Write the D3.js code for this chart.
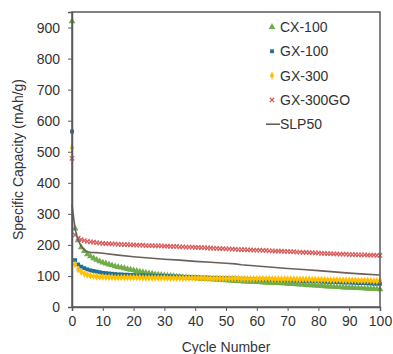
<!DOCTYPE html>
<html lang="en">
    <head>
        <style>
            body { margin: 0; background: #fff; }
            text { font-family: "Liberation Sans", Arial, sans-serif; fill: #333; }
        </style>
        <script src="https://d3js.org/d3.v7.min.js"></script>
        <title>Specific capacity</title>
    </head>
    <body>
        <div id="chart"></div>
        <script>

            // capacity (mAh/g) at cycles 0..100
            var cx100 = [920, 253, 215, 192, 180, 170, 163, 157, 152, 147, 143,
                140, 137, 134, 131, 129, 127, 125, 122, 120, 118,
                116, 114, 112, 110, 108, 107, 105, 104, 103, 102,
                101, 100, 99, 98, 97, 96, 95, 94, 94, 93,
                92, 91, 91, 90, 89, 89, 88, 87, 87, 86,
                85, 85, 84, 84, 83, 82, 82, 81, 81, 80,
                80, 79, 79, 78, 78, 77, 77, 76, 76, 75,
                74, 74, 73, 72, 72, 71, 70, 70, 69, 68,
                68, 67, 66, 66, 65, 64, 64, 63, 63, 62,
                62, 61, 61, 60, 60, 59, 59, 58, 58, 57];

            var gx100 = [565, 151, 137, 130, 125, 121, 118, 116, 114, 112, 110,
                109, 108, 107, 106, 105, 105, 104, 104, 103, 103,
                102, 102, 102, 101, 101, 101, 100, 100, 100, 99,
                99, 99, 98, 98, 98, 97, 97, 97, 96, 96,
                96, 95, 95, 95, 94, 94, 94, 93, 93, 93,
                92, 92, 92, 91, 91, 91, 90, 90, 90, 89,
                89, 89, 88, 88, 88, 87, 87, 87, 86, 86,
                86, 85, 85, 85, 84, 84, 84, 83, 83, 83,
                82, 82, 81, 81, 81, 80, 80, 79, 79, 79,
                78, 78, 77, 77, 77, 76, 76, 75, 75, 75];

            var gx300 = [513, 137, 121, 113, 107, 103, 101, 99, 98, 97, 97,
                96, 96, 96, 95, 95, 95, 95, 95, 95, 95,
                95, 95, 94, 94, 94, 94, 94, 94, 94, 94,
                93, 93, 93, 93, 93, 93, 93, 93, 93, 93,
                93, 93, 93, 92, 92, 92, 92, 92, 92, 92,
                92, 92, 92, 92, 91, 91, 91, 91, 91, 91,
                91, 91, 91, 91, 90, 90, 90, 90, 90, 90,
                90, 90, 89, 89, 89, 89, 89, 88, 88, 88,
                88, 88, 87, 87, 87, 87, 87, 86, 86, 86,
                86, 86, 85, 85, 85, 85, 85, 84, 84, 84];

            var gx300go = [479, 232, 222, 217, 214, 211, 210, 209, 207, 206, 205,
                204, 204, 203, 203, 202, 202, 201, 201, 200, 200,
                199, 199, 199, 198, 198, 198, 197, 197, 197, 196,
                196, 195, 195, 195, 194, 194, 193, 193, 193, 192,
                192, 191, 191, 190, 190, 189, 189, 188, 188, 187,
                187, 186, 186, 185, 185, 185, 184, 184, 183, 183,
                183, 182, 182, 181, 181, 180, 180, 180, 179, 179,
                178, 178, 177, 177, 176, 176, 175, 175, 174, 174,
                173, 173, 172, 172, 171, 171, 170, 170, 170, 169,
                169, 169, 168, 168, 168, 167, 167, 167, 166, 166];

            var slpCycles = [0, 1, 2, 3, 4, 5, 6, 8, 10, 15, 20, 25, 30, 35, 40, 45, 50, 53, 55,
                60, 65, 70, 75, 80, 85, 90, 95, 100];
            var slp50 = [330, 250, 215, 195, 184, 178, 176, 175, 173, 167, 162, 158, 154, 151, 147,
                144, 141, 139, 136, 132, 128, 124, 121, 117, 113, 109, 106, 103];

            var xTicks = [0, 10, 20, 30, 40, 50, 60, 70, 80, 90, 100];
            var yTicks = [0, 100, 200, 300, 400, 500, 600, 700, 800, 900];

            var margin = {top: 12, right: 13, bottom: 47, left: 72},
                width = 393 - margin.left - margin.right,
                height = 354 - margin.top - margin.bottom;

            var svg = d3.select("#chart")
                .append("svg")
                    .attr("width", 393)
                    .attr("height", 354)
                .append("g")
                    .attr("transform", "translate(" + margin.left + "," + margin.top + ")");

            var x = d3.scaleLinear().domain([0, 100]).range([0, width]);
            var y = d3.scaleLinear().domain([0, 950]).range([height, 0]);

            var series = [
                {name: "CX-100", values: cx100, color: "#70ad47", shape: d3.symbolTriangle, size: 20, fill: true},
                {name: "GX-100", values: gx100, color: "#1f6e9a", shape: d3.symbolSquare, size: 15, fill: true},
                {name: "GX-300", values: gx300, color: "#ffc000", shape: d3.symbolDiamond, size: 17, fill: true},
                {name: "GX-300GO", values: gx300go, color: "#d95f5f", shape: d3.symbolX, size: 14, fill: false}
            ];

            function styleMark(sel, s) {
                if (s.fill) {
                    sel.attr("fill", s.color).attr("stroke", "none");
                } else {
                    sel.attr("fill", "none").attr("stroke", s.color).attr("stroke-width", 1.3);
                }
            }

            series.forEach(function(s) {
                var sym = d3.symbol().type(s.shape).size(s.size);
                svg.append("g")
                    .selectAll("path")
                    .data(s.values)
                    .enter()
                    .append("path")
                        .attr("d", sym)
                        .attr("transform", function(d, i) { return "translate(" + x(i) + "," + y(d) + ")"; })
                        .call(styleMark, s);
            });

            var line = d3.line()
                .x(function(d, i) { return x(slpCycles[i]); })
                .y(function(d) { return y(d); });

            svg.append("path")
                .datum(slp50)
                .attr("d", line)
                .attr("fill", "none")
                .attr("stroke", "#6b615a")
                .attr("stroke-width", 1.6);

            // frame
            svg.append("rect")
                .attr("x", 0).attr("y", 0)
                .attr("width", width).attr("height", height)
                .attr("fill", "none")
                .attr("stroke", "#595959")
                .attr("stroke-width", 1.5);

            var xAxis = svg.append("g")
                .attr("transform", "translate(0," + height + ")")
                .call(d3.axisBottom(x).tickValues(xTicks).tickSize(4).tickPadding(5));

            var yAxis = svg.append("g")
                .call(d3.axisLeft(y).tickValues(yTicks).tickSize(4).tickPadding(8));

            [xAxis, yAxis].forEach(function(a) {
                a.select(".domain").attr("stroke", "#595959").attr("stroke-width", 1.5);
                a.selectAll(".tick line").attr("stroke", "#595959");
                a.selectAll(".tick text")
                    .attr("font-size", 14)
                    .attr("font-family", "Liberation Sans, Arial, sans-serif")
                    .attr("fill", "#333");
            });

            svg.append("text")
                .attr("x", width / 2)
                .attr("y", height + 45)
                .attr("text-anchor", "middle")
                .attr("font-size", 14)
                .text("Cycle Number");

            svg.append("text")
                .attr("transform", "translate(-49," + (height / 2) + ") rotate(-90)")
                .attr("text-anchor", "middle")
                .attr("font-size", 14)
                .text("Specific Capacity (mAh/g)");

            // legend
            var legend = svg.append("g").attr("transform", "translate(200,15)");
            series.forEach(function(s, i) {
                var row = legend.append("g").attr("transform", "translate(0," + (i * 24.3) + ")");
                row.append("path")
                    .attr("d", d3.symbol().type(s.shape).size(s.size)())
                    .call(styleMark, s);
                row.append("text")
                    .attr("x", 8)
                    .attr("y", 5)
                    .attr("font-size", 14)
                    .attr("fill", "#222")
                    .text(s.name);
            });
            var slpRow = legend.append("g").attr("transform", "translate(0," + (4 * 24.3) + ")");
            slpRow.append("line")
                .attr("x1", -6).attr("x2", 8)
                .attr("stroke", "#6b615a")
                .attr("stroke-width", 1.6);
            slpRow.append("text")
                .attr("x", 8)
                .attr("y", 5)
                .attr("font-size", 14)
                .attr("fill", "#222")
                .text("SLP50");

        </script>
    </body>
</html>
